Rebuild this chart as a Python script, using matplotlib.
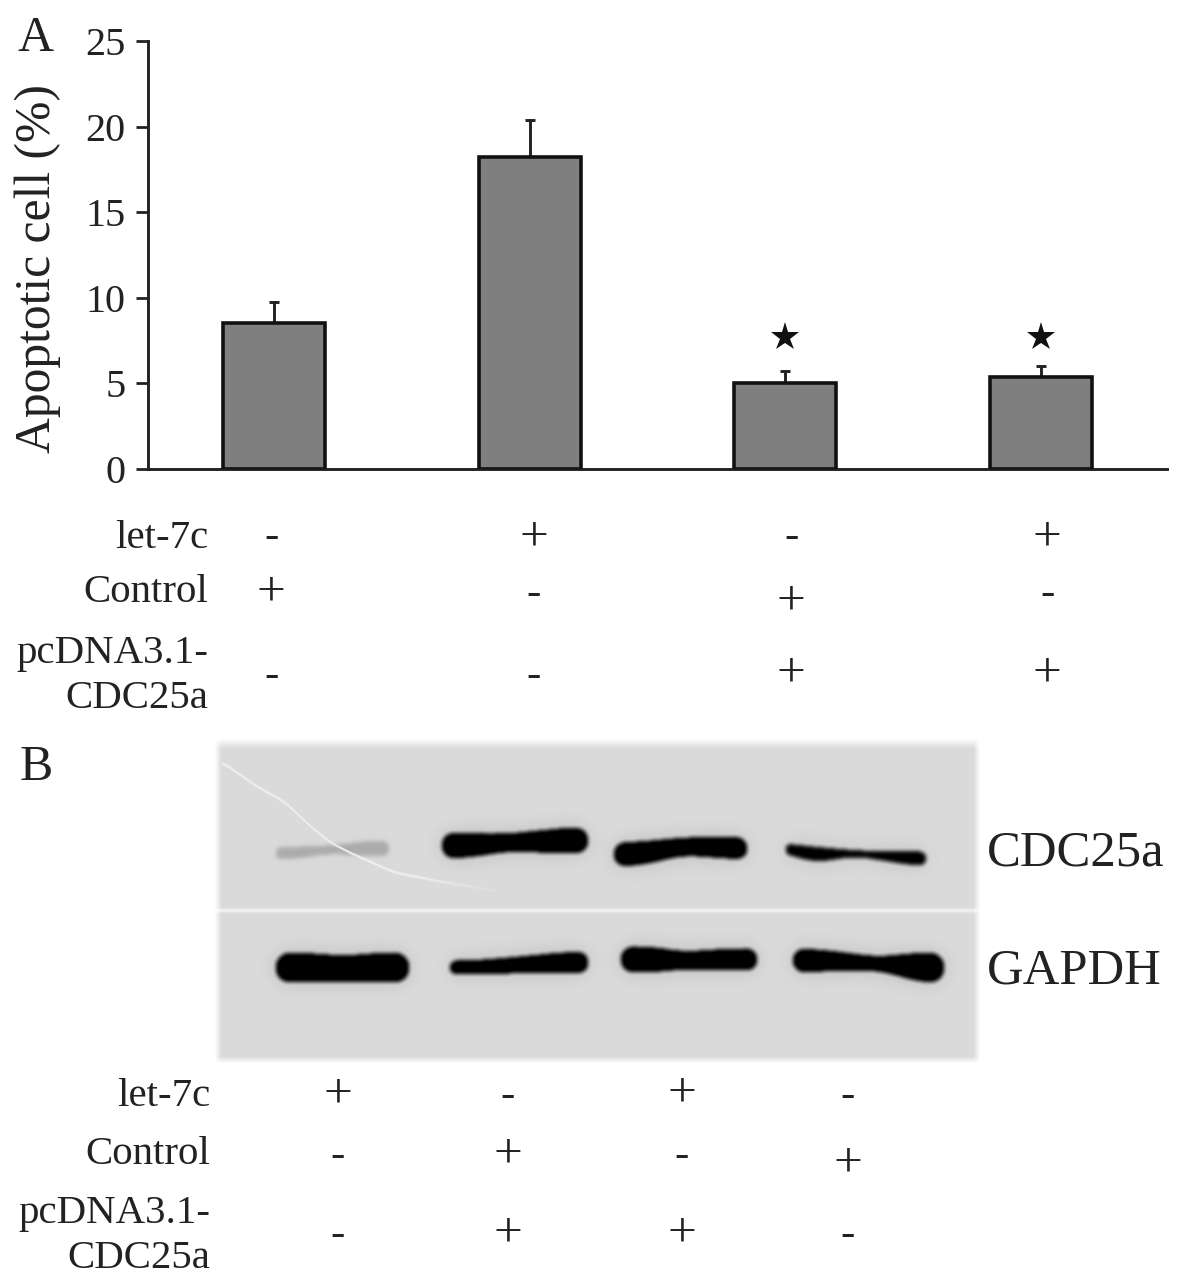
import numpy as np
import matplotlib
matplotlib.use('Agg')
import matplotlib.pyplot as plt

W, H = 1181, 1287
plt.rcParams['font.family'] = ['Liberation Serif', 'DejaVu Serif']

# panel A
apoptotic = [8.5, 18.2, 5.0, 5.4]
err_up = [1.25, 2.2, 0.7, 0.6]
star_y = [7.7, 7.7]
star_x = [2, 3]
yticks = [0, 5, 10, 15, 20, 25]

row_labels_a = ['let-7c', 'Control', 'pcDNA3.1-\nCDC25a']
let7c_a = ['-', '+', '-', '+']
control_a = ['+', '-', '+', '-']
pcdna_a = ['-', '-', '+', '+']

# panel B
row_labels_b = ['let-7c', 'Control', 'pcDNA3.1-\nCDC25a']
let7c_b = ['+', '-', '+', '-']
control_b = ['-', '+', '-', '+']
pcdna_b = ['-', '+', '+', '-']

# blot bands: centreline x, y, half thickness (image pixels), darkness
cdc25a_bands = [
    ([275, 300, 329, 369, 389], [853, 852, 849, 848, 848], [6, 6, 4, 8, 7], 0.2),
    ([441, 470, 508, 568, 588], [845, 845, 842, 840, 840], [13, 12, 9, 13, 13], 1.0),
    ([613, 640, 683, 725, 747], [854, 853, 846, 847, 848], [12, 12, 9, 11, 11], 1.0),
    ([785, 812, 857, 911, 926], [848, 854, 853, 858, 858], [5, 8, 3, 7, 7], 0.95),
]
gapdh_bands = [
    ([275, 300, 342, 385, 409], [967, 967, 968, 967, 967], [15, 15, 13, 15, 15], 1.0),
    ([449, 470, 508, 560, 588], [967, 967, 965, 962, 962], [7, 7, 8, 10, 11], 1.0),
    ([620, 650, 683, 730, 757], [959, 959, 960, 959, 959], [13, 13, 9, 11, 11], 1.0),
    ([792, 820, 877, 921, 944], [960, 960, 963, 967, 967], [12, 11, 7, 15, 15], 1.0),
]
scratch_x = [222, 255, 285, 309, 330, 349, 394, 440, 494]
scratch_y = [762, 785, 802, 825, 842, 852, 872, 881, 890]


def px_axes(fig, left, top, right, bottom):
    return fig.add_axes([left / W, 1 - bottom / H, (right - left) / W, (bottom - top) / H])


def smooth_row(v, n=31):
    pad = n // 2
    padded = np.pad(v, pad, mode='edge')
    return np.convolve(padded, np.ones(n) / n, mode='valid')


def gauss_blur(img, sigma):
    r = int(3 * sigma)
    k = np.exp(-0.5 * (np.arange(-r, r + 1) / sigma) ** 2)
    k /= k.sum()
    out = np.apply_along_axis(lambda c: np.convolve(np.pad(c, r, mode='edge'), k, mode='valid'), 0, img)
    return np.apply_along_axis(lambda c: np.convolve(np.pad(c, r, mode='edge'), k, mode='valid'), 1, out)


def add_band(dark, X, Y, xs, ys, hws, level):
    row = X[0].astype(float)
    yc = smooth_row(np.interp(row, xs, ys))[None, :]
    hw = smooth_row(np.interp(row, xs, hws))[None, :]
    # rounded ends
    r0, r1 = max(hws[0], 4), max(hws[-1], 4)
    left = np.clip((xs[0] + r0 - X) / r0, 0, None)
    right = np.clip((X - xs[-1] + r1) / r1, 0, None)
    cap = np.sqrt(np.clip(1 - left ** 2, 0, 1)) * np.sqrt(np.clip(1 - right ** 2, 0, 1))
    core = (np.abs(Y - yc) < hw * cap).astype(float)
    return np.maximum(dark, core * level)


fig = plt.figure(figsize=(W / 100, H / 100), dpi=100, facecolor='white')

# overlay in image pixels for the text rows and the blot
page = fig.add_axes([0, 0, 1, 1])
page.set_xlim(0, W)
page.set_ylim(H, 0)
page.axis('off')

# blot image
x0, x1, y0, y1 = 208, 987, 732, 1070
X, Y = np.meshgrid(np.arange(x0, x1), np.arange(y0, y1))
dark = np.zeros(X.shape)
for xs, ys, hws, level in cdc25a_bands + gapdh_bands:
    dark = add_band(dark, X, Y, xs, ys, hws, level)
haze = gauss_blur(dark, 10) * 0.16
dark = np.clip(gauss_blur(dark, 2.2) * 1.08, 0, 1)
dark = np.maximum(dark, haze)
grey = 218 - 218 * dark
# seam between the two strips
seam = np.exp(-((Y - 910.0) / 2.2) ** 2)
grey = grey + (240 - grey) * seam
scr_y = smooth_row(np.interp(X[0].astype(float), scratch_x, scratch_y), 15)[None, :]
scr = np.exp(-((Y - scr_y) / 1.3) ** 2) * (X >= scratch_x[0]) * (X <= scratch_x[-1])
scr *= np.clip((scratch_x[-1] - X) / 80, 0.25, 1)
grey = grey + (240 - grey) * scr
# soft edge of the picture
edge = (np.clip((X - 214) / 7, 0, 1) * np.clip((980 - X) / 7, 0, 1)
        * np.clip((Y - 738) / 10, 0, 1) * np.clip((1063 - Y) / 7, 0, 1))
grey = 255 + (grey - 255) * edge
page.imshow(grey, cmap='gray', vmin=0, vmax=255, extent=(x0, x1, y1, y0),
            interpolation='bilinear', aspect='auto', zorder=1)
page.set_xlim(0, W)
page.set_ylim(H, 0)

# bar chart
ax = px_axes(fig, 148, 41, 1167, 469)
ax.patch.set_alpha(0)
pos = np.arange(len(apoptotic))
ax.bar(pos, apoptotic, width=0.4, color='#7f7f7f', edgecolor='#111111', linewidth=2.6, zorder=3)
ax.errorbar(pos, apoptotic, yerr=[np.zeros(len(err_up)), err_up], fmt='none',
            ecolor='#222222', elinewidth=2.1, capsize=3.5, capthick=2.1, zorder=2)
ax.plot(star_x, star_y, linestyle='none', marker='*', markersize=21, color='#111111',
        markeredgewidth=0, zorder=4)
ax.set_xlim(-0.495, 3.495)
ax.set_ylim(0, 25)
ax.set_yticks(yticks)
ax.set_xticks([])
ax.tick_params(axis='y', length=8.6, width=2, color='#222222', labelsize=29,
               labelcolor='#222222', pad=7.5)
ax.spines['top'].set_visible(False)
ax.spines['right'].set_visible(False)
ax.spines['left'].set_linewidth(2.1)
ax.spines['bottom'].set_linewidth(2.1)
ax.spines['left'].set_color('#222222')
ax.spines['bottom'].set_color('#222222')
ax.set_ylabel('Apoptotic cell (%)', fontsize=35.7, color='#222222')
ax.yaxis.set_label_coords((61 - 148) / 1019, (469 - 269) / 428)

# panel letters
page.text(17, 51, 'A', fontsize=36, color='#222222', zorder=5)
page.text(20, 780, 'B', fontsize=36, color='#222222', zorder=5)


def sign_row(signs, xs, ys):
    for s, x, y in zip(signs, xs, ys):
        size = 37 if s == '+' else 31
        page.text(x, y, s, fontsize=size, color='#222222', ha='center', va='center', zorder=5)


def row_text(x, y, label, **kw):
    page.text(x, y, label, fontsize=29.4, color='#222222', ha='right', va='center', zorder=5, **kw)


# panel A rows
xs_a = [271, 534, 791, 1047]
sign_row(let7c_a, xs_a, [537, 538, 537, 538])
sign_row(control_a, xs_a, [593, 594, 602, 594])
sign_row(pcdna_a, xs_a, [676, 676, 674, 674])
row_text(208, 539, row_labels_a[0])
row_text(208, 593, row_labels_a[1])
row_text(208, 676, row_labels_a[2], linespacing=1.26)

# panel B rows
xs_b = [338, 508, 682, 848]
sign_row(let7c_b, xs_b, [1095, 1096, 1094, 1096])
sign_row(control_b, xs_b, [1156, 1155, 1156, 1164])
sign_row(pcdna_b, xs_b, [1235, 1234, 1234, 1235])
row_text(210, 1097, row_labels_b[0])
row_text(210, 1155, row_labels_b[1])
row_text(210, 1236, row_labels_b[2], linespacing=1.26)

# blot labels
page.text(987, 853, 'CDC25a', fontsize=36.5, color='#222222', va='center', zorder=5)
page.text(987, 971, 'GAPDH', fontsize=36.5, color='#222222', va='center', zorder=5)

fig.savefig('out.png', dpi=100, facecolor='white')
